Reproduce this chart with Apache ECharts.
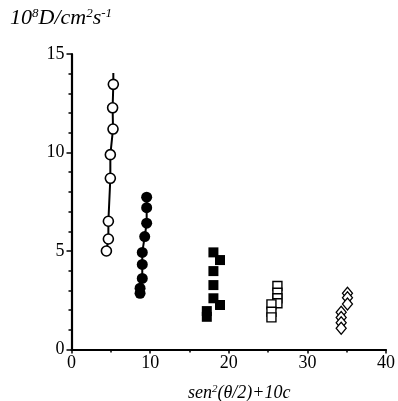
<!DOCTYPE html>
<html><head><meta charset="utf-8">
<script src="https://cdn.jsdelivr.net/npm/echarts@6/dist/echarts.min.js"></script>
<style>html,body{margin:0;padding:0;background:#fff}#c{width:398px;height:401px}</style>
</head><body><div id="c"></div>
<script>
// Data
const openCircleX = [5.32, 5.23, 5.28, 4.94, 4.94, 4.69, 4.69, 4.44];
const openCircleY = [13.46, 12.27, 11.19, 9.89, 8.69, 6.51, 5.61, 5.00];
const openLineTop = [5.32, 14.04];
const filledCircleX = [9.56, 9.56, 9.56, 9.31, 9.0, 9.0, 9.0, 8.72, 8.72];
const filledCircleY = [7.73, 7.20, 6.41, 5.73, 4.93, 4.32, 3.61, 3.11, 2.85];
const filledSquareX = [18.05, 18.89, 18.05, 18.05, 18.05, 18.89, 17.21, 17.21];
const filledSquareY = [4.93, 4.54, 3.98, 3.27, 2.60, 2.26, 1.95, 1.66];
const openSquareX = [26.19, 26.19, 26.19, 26.19, 25.43, 25.43, 25.43];
const openSquareY = [3.22, 2.88, 2.60, 2.35, 2.29, 1.92, 1.63];
const diamondX = [35.1, 35.1, 35.1, 34.3, 34.3, 34.3, 34.3];
const diamondY = [2.85, 2.63, 2.31, 1.89, 1.63, 1.36, 1.08];
const xTicks = [0, 10, 20, 30, 40];
const yTicks = [0, 5, 10, 15];

const zip = (a, b) => a.map((v, i) => [v, b[i]]);
const font = '"Liberation Serif","DejaVu Serif",serif';
const chart = echarts.init(document.getElementById('c'));
chart.setOption({
  animation: false,
  grid: { left: 71.5, right: 8.5, top: 54, bottom: 51.5 },
  xAxis: {
    type: 'value', min: xTicks[0], max: xTicks[xTicks.length - 1], interval: 10,
    axisLine: { onZero: false, lineStyle: { color: '#000', width: 2.2 } },
    axisTick: { show: true, length: 4, lineStyle: { color: '#000', width: 1.5 } },
    minorTick: { show: true, splitNumber: 2, length: 3, lineStyle: { color: '#000', width: 1.5 } },
    splitLine: { show: false },
    axisLabel: { color: '#000', fontFamily: font, fontSize: 18, margin: 5 }
  },
  yAxis: {
    type: 'value', min: yTicks[0], max: yTicks[yTicks.length - 1], interval: 5,
    axisLine: { onZero: false, lineStyle: { color: '#000', width: 2.2 } },
    axisTick: { show: true, length: 5, lineStyle: { color: '#000', width: 1.5 } },
    minorTick: { show: true, splitNumber: 5, length: 3, lineStyle: { color: '#000', width: 1.5 } },
    splitLine: { show: false },
    axisLabel: { color: '#000', fontFamily: font, fontSize: 18, margin: 7 }
  },
  series: [
    {
      type: 'line', symbol: 'circle', symbolSize: 10,
      itemStyle: { color: '#fff', borderColor: '#000', borderWidth: 1.6, opacity: 1 },
      lineStyle: { color: '#000', width: 2 }, z: 3,
      data: [{ value: openLineTop, symbol: 'none' }].concat(zip(openCircleX, openCircleY))
    },
    {
      type: 'line', symbol: 'circle', symbolSize: 11,
      itemStyle: { color: '#000', opacity: 1 },
      lineStyle: { color: '#000', width: 2 },
      data: zip(filledCircleX, filledCircleY)
    },
    {
      type: 'scatter', symbol: 'rect', symbolSize: 10,
      itemStyle: { color: '#000', opacity: 1 },
      data: zip(filledSquareX, filledSquareY)
    },
    {
      type: 'scatter', symbol: 'rect', symbolSize: 9,
      itemStyle: { color: '#fff', borderColor: '#000', borderWidth: 1.4, opacity: 1 },
      data: zip(openSquareX, openSquareY)
    },
    {
      type: 'scatter', symbol: 'diamond', symbolSize: [10, 12],
      itemStyle: { color: '#fff', borderColor: '#000', borderWidth: 1.3, opacity: 1 },
      data: zip(diamondX, diamondY)
    }
  ],
  graphic: [
    {
      type: 'text', left: 10, top: 7,
      style: {
        text: '{n|10}{s|8}{n|D/cm}{s|2}{n|s}{s|-1}',
        rich: {
          n: { fontFamily: font, fontStyle: 'italic', fontSize: 22, fill: '#000', lineHeight: 26 },
          s: { fontFamily: font, fontStyle: 'italic', fontSize: 13, fill: '#000', lineHeight: 26, padding: [0, 0, 10, 0] }
        }
      }
    },
    {
      type: 'text', left: 188, top: 384,
      style: {
        text: '{n|sen}{s|2}{n|(θ/2)+10c}',
        rich: {
          n: { fontFamily: font, fontStyle: 'italic', fontSize: 18, fill: '#000', lineHeight: 22 },
          s: { fontFamily: font, fontStyle: 'italic', fontSize: 11, fill: '#000', lineHeight: 22, padding: [0, 0, 8, 0] }
        }
      }
    }
  ]
});
</script></body></html>
